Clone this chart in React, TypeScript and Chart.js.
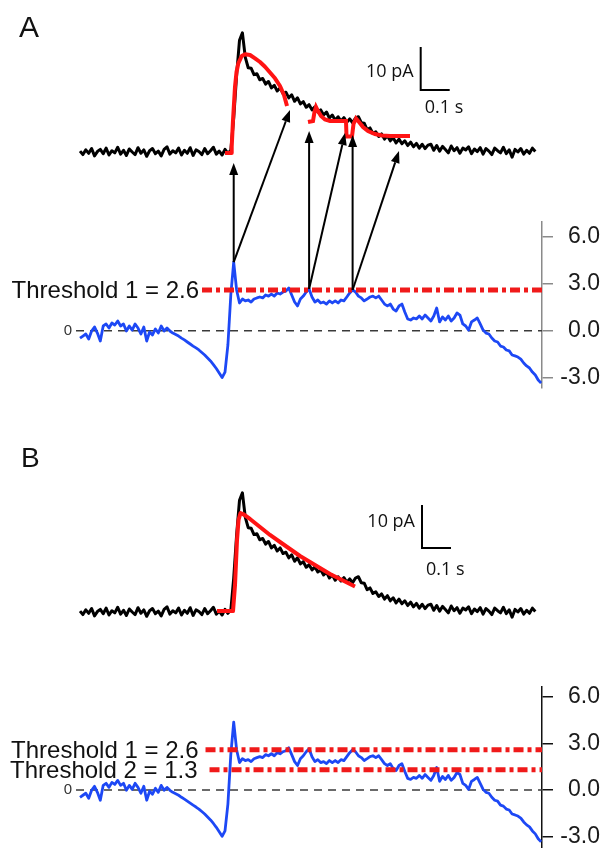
import React, { useEffect, useRef } from "react";
import { Chart, registerables } from "chart.js";

Chart.register(...registerables);

// ---------------- data ----------------
// sampling interval of the recorded traces (s)
const SAMPLE_DT = 0.01;

// membrane current (pA, relative to baseline), one sample every SAMPLE_DT
const CURRENT_PA = [
  0.2, -0.6, 0.5, -0.3, 0.8, -0.9, 0.1, 0.6, -0.4, 0.9,
  -0.7, 0.3, -0.2, 1.1, -0.5, 0.4, -0.8, 0.7, 0.0, -0.6,
  1.0, -0.3, 0.5, -1.0, 0.3, 0.8, -0.4, 0.2, -0.9, 0.6,
  1.2, -0.5, 0.3, -0.2, 0.9, -0.7, 0.4, -0.3, 1.0, -0.8,
  0.5, 0.1, -0.6, 0.8, -0.4, 0.3, 1.1, -0.5, 0.2, -0.7,
  0.6, -0.3, 0.4, 7.9, 17.9, 26.0, 27.7, 22.0, 19.6, 19.5,
  18.0, 18.2, 16.8, 17.1, 15.8, 16.4, 14.9, 15.5, 14.2, 14.9,
  13.6, 13.9, 12.6, 13.3, 11.8, 12.6, 11.2, 11.7, 10.4, 11.0,
  9.8, 10.5, 9.3, 9.8, 8.6, 9.3, 7.9, 8.6, 7.4, 8.2,
  7.2, 8.0, 6.9, 7.7, 6.8, 7.9, 8.2, 6.8, 6.7, 5.2,
  5.6, 4.3, 4.7, 3.6, 4.2, 3.0, 3.8, 2.6, 3.3, 2.1,
  3.0, 1.9, 2.6, 1.5, 2.3, 1.2, 2.0, 0.9, 1.8, 0.8,
  1.6, 1.8, 0.4, 1.5, 0.2, 1.3, 0.6, -0.2, 1.4, 0.3,
  1.0, -0.3, 0.9, 0.5, 1.2, -0.4, 0.7, 0.1, 1.0, -0.5,
  0.8, 0.2, -0.6, 0.9, 0.3, -0.2, 1.1, -0.4, 0.5, -1.2,
  0.6, 0.0, 0.8, -0.5, 0.4, -0.3, 0.9, 0.1,
];

// detection criterion (dimensionless), same time base
const DETECTION = [
  -0.47, -0.34, -0.21, -0.53, -0.02, 0.24, -0.15, -0.66, 0.30, 0.43,
  0.17, 0.49, 0.36, 0.62, 0.30, 0.43, -0.02, 0.30, 0.04, 0.43,
  0.17, -0.21, 0.24, -0.66, -0.08, -0.27, 0.11, -0.15, 0.30, -0.02,
  0.17, -0.02, -0.15, -0.24, -0.34, -0.47, -0.59, -0.72, -0.85, -0.98,
  -1.10, -1.23, -1.39, -1.55, -1.74, -1.93, -2.16, -2.41, -2.70, -2.99,
  -2.64, -0.91, 2.28, 4.38, 2.60, 1.77, 2.02, 1.90, 1.96, 1.83,
  2.02, 2.09, 2.15, 2.09, 2.28, 2.21, 2.34, 2.21, 2.41, 2.34,
  2.47, 2.53, 2.72, 2.28, 1.83, 1.58, 2.02, 2.21, 2.47, 2.66,
  2.15, 1.83, 1.96, 1.77, 1.83, 1.70, 1.90, 1.77, 1.90, 1.77,
  1.96, 1.90, 2.15, 2.41, 2.60, 2.47, 2.21, 2.09, 1.90, 2.02,
  2.15, 2.21, 2.09, 2.21, 1.96, 1.70, 1.58, 1.70, 1.38, 1.26,
  1.58, 1.70, 1.19, 0.75, 0.68, 0.81, 0.75, 0.94, 0.75, 1.00,
  0.81, 0.62, 0.94, 1.45, 0.56, 0.87, 0.68, 0.94, 0.62, 0.81,
  1.13, 1.00, 0.43, 0.30, 0.04, 0.56, 0.68, 0.81, 0.43, 0.04,
  -0.15, -0.21, -0.47, -0.66, -0.72, -0.98, -1.04, -1.23, -1.29, -1.55,
  -1.61, -1.68, -1.81, -2.06, -2.25, -2.38, -2.64, -2.83, -3.15, -3.34,
];

const THRESHOLD_1 = 2.6;
const THRESHOLD_2 = 1.3;
const DET_TICKS = [-3, 0, 3, 6];

// fitted events, [time s, current pA]
const FIT_A_1 = [
  [0.5, -0.23], [0.5207, -0.23], [0.5231, 1.23], [0.5276, 7.44], [0.5345, 15.19],
  [0.5397, 18.6], [0.5459, 20.63], [0.5576, 22.33], [0.569, 22.72], [0.5862, 22.56],
  [0.6034, 21.79], [0.6207, 20.93], [0.6379, 19.84], [0.6552, 18.49], [0.6724, 17.14],
  [0.6897, 15.35], [0.7034, 13.26], [0.7138, 10.7],
];
const FIT_A_2 = [
  [0.7862, 6.98], [0.8034, 7.21], [0.8086, 9.3], [0.8138, 10.47], [0.8207, 9.53],
  [0.831, 8.37], [0.8448, 7.56], [0.8621, 7.21], [0.9172, 7.21], [0.919, 3.6],
  [0.9379, 3.6], [0.9431, 6.51], [0.9517, 7.79], [0.9621, 6.98], [0.9759, 5.81],
  [0.9931, 4.88], [1.0172, 4.19], [1.0414, 3.84], [1.069, 3.72], [1.1379, 3.72],
];
const FIT_B = [
  [0.4724, 0.23], [0.5276, 0.23], [0.5345, 6.28], [0.5414, 16.74], [0.5466, 21.4],
  [0.5534, 23.02], [0.5621, 22.79], [0.5862, 21.63], [0.6207, 19.77], [0.6552, 17.91],
  [0.6897, 16.28], [0.7241, 14.65], [0.7586, 13.02], [0.7931, 11.63], [0.8276, 10.23],
  [0.8621, 8.84], [0.8966, 7.67], [0.931, 6.51], [0.9483, 5.93],
];

// detections in A: [time s, criterion] -> [time s, current pA]
const ARROWS_A = [
  { from: [0.53, 4.38], to: [0.53, -2.56] },
  { from: [0.53, 4.38], to: [0.7241, 9.77] },
  { from: [0.79, 2.66], to: [0.79, 4.88] },
  { from: [0.79, 2.66], to: [0.9138, 4.42] },
  { from: [0.94, 2.6], to: [0.94, 3.95] },
  { from: [0.94, 2.6], to: [1.1, 0.23] },
];

// scale bars: corner [time s, current pA], size
const SCALEBAR_A = [1.1748, 14.42];
const SCALEBAR_B = [1.1793, 14.88];
const SCALEBAR_T = 0.1;
const SCALEBAR_PA = 10;

// extents of the reference lines (s)
const X_MIN = -0.2759;
const X_MAX = 1.5931;
const ZERO_START = -0.0138;
const THR_A1_START = 0.4207;
const THR_B1_START = 0.4328;
const THR_B2_START = 0.4466;

// --------------------------------------
const pts = (arr: number[]) => arr.map((v, i) => ({ x: i * SAMPLE_DT, y: v }));
const pairs = (arr: number[][]) => arr.map(([x, y]) => ({ x, y }));
const hline = (x0: number, v: number) => [{ x: x0, y: v }, { x: X_MAX, y: v }];
const bar = (o: number[]) => [
  { x: o[0], y: o[1] + SCALEBAR_PA },
  { x: o[0], y: o[1] },
  { x: o[0] + SCALEBAR_T, y: o[1] },
];

const SANS = "'Liberation Sans', Arial, sans-serif";
const HUMAN = "'Open Sans', 'Liberation Sans', sans-serif";

const annotations = {
  id: "annotations",
  afterDatasetsDraw(chart: any) {
    const ctx = chart.ctx as CanvasRenderingContext2D;
    const sx = chart.scales.x;
    const cA = chart.scales.curA;
    const dA = chart.scales.detA;
    const cB = chart.scales.curB;
    const dB = chart.scales.detB;
    ctx.save();
    // arrows
    ctx.strokeStyle = "#000";
    ctx.fillStyle = "#000";
    ctx.lineWidth = 2;
    for (const a of ARROWS_A) {
      const x0 = sx.getPixelForValue(a.from[0]);
      const y0 = dA.getPixelForValue(a.from[1]);
      const x1 = sx.getPixelForValue(a.to[0]);
      const y1 = cA.getPixelForValue(a.to[1]);
      const ang = Math.atan2(y1 - y0, x1 - x0);
      const L = 12;
      const W = 4.5;
      const bx = x1 - L * Math.cos(ang);
      const by = y1 - L * Math.sin(ang);
      ctx.beginPath();
      ctx.moveTo(x0, y0);
      ctx.lineTo(bx, by);
      ctx.stroke();
      ctx.beginPath();
      ctx.moveTo(x1, y1);
      ctx.lineTo(bx + W * Math.sin(ang), by - W * Math.cos(ang));
      ctx.lineTo(bx - W * Math.sin(ang), by + W * Math.cos(ang));
      ctx.closePath();
      ctx.fill();
    }

    ctx.fillStyle = "#111";
    // panel letters
    ctx.textAlign = "left";
    ctx.textBaseline = "alphabetic";
    ctx.font = `30px ${SANS}`;
    ctx.fillText("A", 19, 37);
    ctx.font = `28px ${SANS}`;
    ctx.fillText("B", 21, 467);

    // threshold labels
    ctx.font = `24px ${SANS}`;
    ctx.textAlign = "right";
    const thr = (label: string, start: number, v: number, sc: any, gap: number) => {
      const y = sc.getPixelForValue(v);
      ctx.fillText(label, sx.getPixelForValue(start) - gap, y + 8.5);
    };
    thr("Threshold 1 = 2.6", THR_A1_START, THRESHOLD_1, dA, 3);
    thr("Threshold 1 = 2.6", THR_B1_START, THRESHOLD_1, dB, 7);
    thr("Threshold 2 = 1.3", THR_B2_START, THRESHOLD_2, dB, 12);

    // zero labels
    ctx.font = `15px ${SANS}`;
    ctx.fillStyle = "#333";
    ctx.textBaseline = "middle";
    const zx = sx.getPixelForValue(ZERO_START) - 4;
    ctx.fillText("0", zx, dA.getPixelForValue(0));
    ctx.fillText("0", zx, dB.getPixelForValue(0));

    // scale bar labels
    ctx.fillStyle = "#111";
    ctx.font = `18px ${HUMAN}`;
    const sbl = (o: number[], sc: any, dyMid: number, dyBottom: number) => {
      const bx = sx.getPixelForValue(o[0]);
      const yb = sc.getPixelForValue(o[1]);
      const yt = sc.getPixelForValue(o[1] + SCALEBAR_PA);
      ctx.textAlign = "right";
      ctx.fillText("10 pA", bx - 7, (yt + yb) / 2 + dyMid);
      ctx.textAlign = "left";
      ctx.fillText("0.1 s", bx + 4, yb + dyBottom);
    };
    sbl(SCALEBAR_A, cA, 3, 18);
    sbl(SCALEBAR_B, cB, -5, 22);
    ctx.restore();
  },
};

const AXIS_WIDTH = 58;

const detAxis = (min: number, max: number, weight: number, color: string) => ({
  type: "linear",
  position: "right",
  stack: "panels",
  stackWeight: weight,
  min,
  max,
  afterBuildTicks: (s: any) => {
    s.ticks = DET_TICKS.map((v) => ({ value: v }));
  },
  afterFit: (s: any) => {
    s.width = AXIS_WIDTH;
    s.paddingTop = 0;
    s.paddingBottom = 0;
  },
  grid: { drawOnChartArea: false, drawTicks: true, tickLength: 11, color, lineWidth: 1.5 },
  border: { display: true, color, width: 1.5 },
  ticks: {
    font: { family: SANS, size: 23 },
    color: "#1a1a1a",
    padding: 4,
    crossAlign: "far",
    autoSkip: false,
    callback: (v: any) => Number(v).toFixed(1),
  },
});

const curAxis = (min: number, max: number, weight: number) => ({
  type: "linear",
  position: "right",
  stack: "panels",
  stackWeight: weight,
  min,
  max,
  display: false,
  afterFit: (s: any) => {
    s.width = AXIS_WIDTH;
    s.paddingTop = 0;
    s.paddingBottom = 0;
  },
});

export default function App() {
  const ref = useRef<HTMLCanvasElement | null>(null);
  useEffect(() => {
    if (!ref.current) return;
    const line = (extra: any) => ({
      pointRadius: 0,
      tension: 0,
      fill: false,
      borderJoinStyle: "round",
      ...extra,
    });
    const cur = pts(CURRENT_PA);
    const det = pts(DETECTION);
    const dash = [10, 4, 4, 4];
    const datasets = [
      // panel A
      line({ data: hline(ZERO_START, 0), yAxisID: "detA", borderColor: "#3a3a3a", borderWidth: 1.5, borderDash: [8, 6], order: 10 }),
      line({ data: det, yAxisID: "detA", borderColor: "#1d48f5", borderWidth: 2.8, order: 9 }),
      line({ data: hline(THR_A1_START, THRESHOLD_1), yAxisID: "detA", borderColor: "#f01a1a", borderWidth: 5, borderDash: dash, borderCapStyle: "butt", order: 8 }),
      line({ data: cur, yAxisID: "curA", borderColor: "#000", borderWidth: 3, order: 7 }),
      line({ data: pairs(FIT_A_1), yAxisID: "curA", borderColor: "#ff1414", borderWidth: 4, order: 6 }),
      line({ data: pairs(FIT_A_2), yAxisID: "curA", borderColor: "#ff1414", borderWidth: 4, borderJoinStyle: "miter", order: 6 }),
      line({ data: bar(SCALEBAR_A), yAxisID: "curA", borderColor: "#000", borderWidth: 2, borderJoinStyle: "miter", order: 5 }),
      // panel B
      line({ data: hline(ZERO_START, 0), yAxisID: "detB", borderColor: "#3a3a3a", borderWidth: 1.5, borderDash: [8, 6], order: 10 }),
      line({ data: det, yAxisID: "detB", borderColor: "#1d48f5", borderWidth: 2.8, order: 9 }),
      line({ data: hline(THR_B1_START, THRESHOLD_1), yAxisID: "detB", borderColor: "#f01a1a", borderWidth: 5, borderDash: dash, borderCapStyle: "butt", order: 8 }),
      line({ data: hline(THR_B2_START, THRESHOLD_2), yAxisID: "detB", borderColor: "#f01a1a", borderWidth: 5, borderDash: dash, borderCapStyle: "butt", order: 8 }),
      line({ data: cur, yAxisID: "curB", borderColor: "#000", borderWidth: 3, order: 7 }),
      line({ data: pairs(FIT_B), yAxisID: "curB", borderColor: "#ff1414", borderWidth: 4, order: 6 }),
      line({ data: bar(SCALEBAR_B), yAxisID: "curB", borderColor: "#000", borderWidth: 2, borderJoinStyle: "miter", order: 5 }),
    ];
    const chart = new Chart(ref.current, {
      type: "line",
      data: { datasets } as any,
      options: {
        animation: false,
        responsive: true,
        maintainAspectRatio: false,
        events: [],
        layout: { padding: { left: 0, top: 0, bottom: 0, right: 607 - 542 - AXIS_WIDTH } },
        plugins: { legend: { display: false }, tooltip: { enabled: false } },
        scales: {
          x: { type: "linear", min: X_MIN, max: X_MAX, display: false },
          curA: curAxis(-16.28, 35.35, 222),
          detA: detAxis(-3.657, 6.937, 166, "#8a8a8a"),
          curB: curAxis(-17.44, 52.09, 299),
          detB: detAxis(-3.742, 6.645, 161, "#111"),
        } as any,
      },
      plugins: [annotations],
    } as any);
    return () => chart.destroy();
  }, []);
  return (
    <div style={{ position: "absolute", left: 0, top: 0, width: 607, height: 848, background: "#fff" }}>
      <canvas ref={ref} />
    </div>
  );
}
